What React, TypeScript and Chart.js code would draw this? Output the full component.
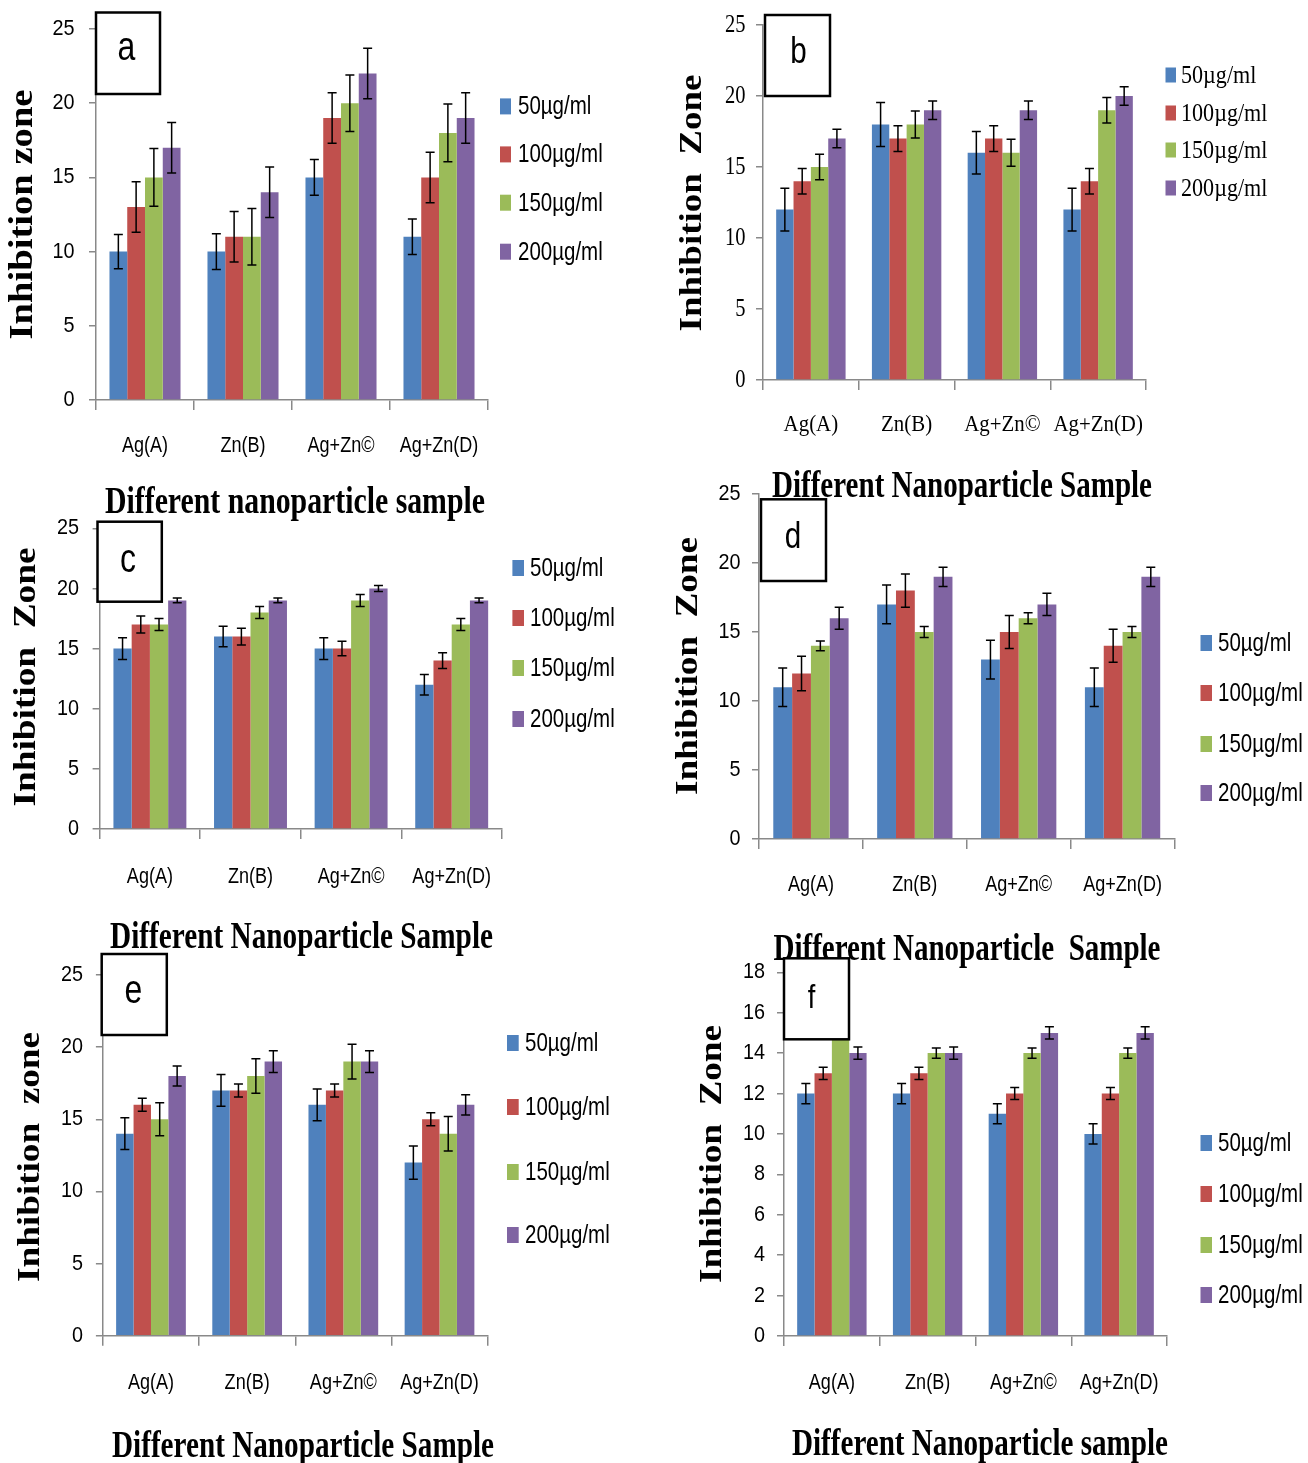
import React, { useEffect, useRef } from "react";
import { Chart, registerables } from "chart.js";

Chart.register(...registerables);

// ---------------- DATA ----------------
const categories = ["Ag(A)", "Zn(B)", "Ag+Zn©", "Ag+Zn(D)"];
const doseLabels = ["50µg/ml", "100µg/ml", "150µg/ml", "200µg/ml"];

// rows = dose (50,100,150,200), columns = categories
const panelAValues = [
  [10, 10, 15, 11],
  [13, 11, 19, 15],
  [15, 11, 20, 18],
  [17, 14, 22, 19],
];
const panelAErrors = [
  [1.15, 1.2, 1.2, 1.2],
  [1.7, 1.7, 1.7, 1.7],
  [1.95, 1.9, 1.9, 1.95],
  [1.7, 1.7, 1.7, 1.7],
];

const panelBValues = [
  [12, 18, 16, 12],
  [14, 17, 17, 14],
  [15, 18, 16, 19],
  [17, 19, 19, 20],
];
const panelBErrors = [
  [1.5, 1.55, 1.5, 1.5],
  [0.9, 0.9, 0.9, 0.9],
  [0.9, 0.95, 0.95, 0.9],
  [0.65, 0.65, 0.65, 0.65],
];

const panelCValues = [
  [15, 16, 15, 12],
  [17, 16, 15, 14],
  [17, 18, 19, 17],
  [19, 19, 20, 19],
];
const panelCErrors = [
  [0.9, 0.85, 0.9, 0.85],
  [0.7, 0.7, 0.6, 0.65],
  [0.5, 0.5, 0.5, 0.5],
  [0.2, 0.2, 0.25, 0.2],
];

const panelDValues = [
  [11, 17, 13, 11],
  [12, 18, 15, 14],
  [14, 15, 16, 15],
  [16, 19, 17, 19],
];
const panelDErrors = [
  [1.4, 1.4, 1.4, 1.4],
  [1.25, 1.2, 1.2, 1.2],
  [0.35, 0.4, 0.4, 0.4],
  [0.8, 0.7, 0.8, 0.7],
];

const panelEValues = [
  [14, 17, 16, 12],
  [16, 17, 17, 15],
  [15, 18, 19, 14],
  [18, 19, 19, 16],
];
const panelEErrors = [
  [1.1, 1.1, 1.1, 1.15],
  [0.45, 0.45, 0.45, 0.45],
  [1.15, 1.2, 1.2, 1.2],
  [0.7, 0.75, 0.75, 0.7],
];

const panelFValues = [
  [12, 12, 11, 10],
  [13, 13, 12, 12],
  [15, 14, 14, 14],
  [14, 14, 15, 15],
];
const panelFErrors = [
  [0.5, 0.5, 0.5, 0.5],
  [0.3, 0.3, 0.3, 0.3],
  [0.3, 0.25, 0.25, 0.25],
  [0.3, 0.3, 0.3, 0.3],
];

// ---------------- STYLE ----------------
const seriesColors = ["#4F81BD", "#C0504D", "#9BBB59", "#8064A2"];
const AXIS = "#898989";
const SANS = "'Liberation Sans', Arial, sans-serif";
const SERIF = "'Liberation Serif', 'Times New Roman', serif";
const LETTER_FONT = "'Liberation Sans', Arial, sans-serif";

type TextStyle = { size: number; sx: number };

type Panel = {
  key: string;
  left: number; top: number; width: number; height: number;
  l: number; r: number; t: number; b: number;
  yMax: number; yStep: number;
  values: number[][]; errors: number[][];
  serif: boolean;
  tickText: TextStyle; catText: TextStyle; legendText: TextStyle;
  tickRight: number; catY: number;
  legend: { sx: number; sw: number; sh: number; tx: number; ys: number[] };
  box: [number, number, number, number];
  letter: { ch: string; x: number; y: number; size: number };
  yTitle: { text: string; cx: number; cy: number; len: number; size: number };
  xTitle: { text: string; cx: number; base: number; len: number; size: number };
};

const sansTick: TextStyle = { size: 22, sx: 0.9 };
const sansCat: TextStyle = { size: 22, sx: 0.82 };
const sansLegend: TextStyle = { size: 25, sx: 0.82 };

const panels: Panel[] = [
  {
    key: "a", left: 0, top: 0, width: 654, height: 530,
    l: 96, r: 488, t: 29, b: 400, yMax: 25, yStep: 5,
    values: panelAValues, errors: panelAErrors, serif: false,
    tickText: sansTick, catText: sansCat, legendText: sansLegend,
    tickRight: 74.5, catY: 446,
    legend: { sx: 500, sw: 11, sh: 16, tx: 518, ys: [106.4, 154.4, 202.7, 251.7] },
    box: [96, 12.5, 160, 94],
    letter: { ch: "a", x: 126.5, y: 60, size: 40 },
    yTitle: { text: "Inhibition zone", cx: 23, cy: 214.5, len: 250, size: 38 },
    xTitle: { text: "Different nanoparticle sample", cx: 295, base: 513, len: 380, size: 38 },
  },
  {
    key: "b", left: 654, top: 0, width: 654, height: 505,
    l: 763, r: 1146, t: 25, b: 380, yMax: 25, yStep: 5,
    values: panelBValues, errors: panelBErrors, serif: true,
    tickText: { size: 25, sx: 0.82 }, catText: { size: 24, sx: 0.87 }, legendText: { size: 26, sx: 0.85 },
    tickRight: 745.5, catY: 425,
    legend: { sx: 1165.5, sw: 10.5, sh: 15, tx: 1181, ys: [75, 113, 150, 188] },
    box: [765, 15, 830, 96],
    letter: { ch: "b", x: 798.5, y: 63.3, size: 37 },
    yTitle: { text: "Inhibition  Zone", cx: 693, cy: 203, len: 257, size: 37 },
    xTitle: { text: "Different Nanoparticle Sample", cx: 962, base: 497, len: 380, size: 38 },
  },
  {
    key: "c", left: 0, top: 500, width: 654, height: 460,
    l: 99.6, r: 502, t: 528.3, b: 829, yMax: 25, yStep: 5,
    values: panelCValues, errors: panelCErrors, serif: false,
    tickText: sansTick, catText: sansCat, legendText: sansLegend,
    tickRight: 79, catY: 876.7,
    legend: { sx: 512.4, sw: 11.6, sh: 16, tx: 530, ys: [568, 618, 668, 719] },
    box: [97.5, 521.7, 161.8, 601.7],
    letter: { ch: "c", x: 128, y: 571.7, size: 40 },
    yTitle: { text: "Inhibition  Zone", cx: 27, cy: 677, len: 259, size: 37 },
    xTitle: { text: "Different Nanoparticle Sample", cx: 301.5, base: 948, len: 383, size: 38 },
  },
  {
    key: "d", left: 654, top: 475, width: 654, height: 495,
    l: 759, r: 1174.5, t: 494, b: 839, yMax: 25, yStep: 5,
    values: panelDValues, errors: panelDErrors, serif: false,
    tickText: sansTick, catText: sansCat, legendText: sansLegend,
    tickRight: 740.6, catY: 885,
    legend: { sx: 1200.5, sw: 11.5, sh: 16, tx: 1218, ys: [643, 693, 744, 793] },
    box: [761, 499.3, 826, 581],
    letter: { ch: "d", x: 793, y: 548, size: 37 },
    yTitle: { text: "Inhibition  Zone", cx: 689, cy: 666, len: 258, size: 37 },
    xTitle: { text: "Different Nanoparticle  Sample", cx: 967, base: 960, len: 387, size: 38 },
  },
  {
    key: "e", left: 0, top: 940, width: 654, height: 523,
    l: 102.9, r: 487.6, t: 975, b: 1335.7, yMax: 25, yStep: 5,
    values: panelEValues, errors: panelEErrors, serif: false,
    tickText: sansTick, catText: sansCat, legendText: sansLegend,
    tickRight: 83, catY: 1383,
    legend: { sx: 507, sw: 11.7, sh: 16, tx: 525, ys: [1043, 1107, 1172, 1235] },
    box: [101.7, 954, 166.8, 1035],
    letter: { ch: "e", x: 133.4, y: 1003.3, size: 40 },
    yTitle: { text: "Inhibition  zone", cx: 31, cy: 1157, len: 250, size: 37 },
    xTitle: { text: "Different Nanoparticle Sample", cx: 303, base: 1456.7, len: 382, size: 38 },
  },
  {
    key: "f", left: 654, top: 945, width: 654, height: 518,
    l: 784, r: 1167, t: 972.3, b: 1336, yMax: 18, yStep: 2,
    values: panelFValues, errors: panelFErrors, serif: false,
    tickText: sansTick, catText: sansCat, legendText: sansLegend,
    tickRight: 765, catY: 1383,
    legend: { sx: 1200.5, sw: 11.5, sh: 16, tx: 1218, ys: [1143, 1194, 1245, 1295] },
    box: [784, 958.3, 849, 1039.3],
    letter: { ch: "f", x: 811.5, y: 1008, size: 34 },
    yTitle: { text: "Inhibition  Zone", cx: 713, cy: 1154, len: 258, size: 37 },
    xTitle: { text: "Different Nanoparticle sample", cx: 980, base: 1455, len: 376, size: 38 },
  },
];

function drawScaled(
  ctx: CanvasRenderingContext2D, text: string, x: number, y: number, font: string,
  sx: number, sy: number, rotate: boolean, align: CanvasTextAlign, baseline: CanvasTextBaseline
) {
  ctx.save();
  ctx.font = font;
  ctx.translate(x, y);
  if (rotate) ctx.rotate(-Math.PI / 2);
  ctx.scale(sx, sy);
  ctx.textAlign = align;
  ctx.textBaseline = baseline;
  ctx.fillStyle = "#000";
  ctx.fillText(text, 0, 0);
  ctx.restore();
}

function makeDecor(p: Panel) {
  const ox = p.left, oy = p.top;
  const fam = p.serif ? SERIF : SANS;
  return {
    id: "decor_" + p.key,
    afterDatasetsDraw(chart: any) {
      const ctx: CanvasRenderingContext2D = chart.ctx;
      const ys = chart.scales.y;
      const cap = 4.5;
      ctx.save();
      ctx.strokeStyle = "#000";
      ctx.lineWidth = 1.5;
      p.errors.forEach((errs, i) => {
        const meta = chart.getDatasetMeta(i);
        meta.data.forEach((el: any, j: number) => {
          const v = p.values[i][j];
          const e = errs[j];
          const x = el.x;
          const yT = ys.getPixelForValue(v + e);
          const yB = ys.getPixelForValue(v - e);
          ctx.beginPath();
          ctx.moveTo(x, yT); ctx.lineTo(x, yB);
          ctx.moveTo(x - cap, yT); ctx.lineTo(x + cap, yT);
          ctx.moveTo(x - cap, yB); ctx.lineTo(x + cap, yB);
          ctx.stroke();
        });
      });
      ctx.restore();
    },
    afterDraw(chart: any) {
      const ctx: CanvasRenderingContext2D = chart.ctx;
      const xs = chart.scales.x;
      const ys = chart.scales.y;
      // y tick labels (condensed, through the y scale)
      const tf = `${p.tickText.size}px ${fam}`;
      ys.ticks.forEach((tk: any) => {
        const y = ys.getPixelForValue(tk.value);
        drawScaled(ctx, String(tk.label), p.tickRight - ox, y, tf, p.tickText.sx, 1, false, "right", "middle");
      });
      // category labels (condensed, through the x scale)
      const cf = `${p.catText.size}px ${fam}`;
      chart.data.labels.forEach((lab: string, i: number) => {
        const x = xs.getPixelForTick(i);
        drawScaled(ctx, lab, x, p.catY - oy, cf, p.catText.sx, 1, false, "center", "middle");
      });
      // legend
      const lg = p.legend;
      const lfont = `${p.legendText.size}px ${fam}`;
      chart.data.datasets.forEach((ds: any, i: number) => {
        const cy = lg.ys[i] - oy;
        ctx.save();
        ctx.fillStyle = ds.backgroundColor;
        ctx.fillRect(lg.sx - ox, cy - lg.sh / 2, lg.sw, lg.sh);
        ctx.restore();
        drawScaled(ctx, ds.label, lg.tx - ox, cy + 1, lfont, p.legendText.sx, 1, false, "left", "middle");
      });
      // letter box
      const [x1, y1, x2, y2] = p.box;
      ctx.save();
      ctx.fillStyle = "#fff";
      ctx.fillRect(x1 - ox, y1 - oy, x2 - x1, y2 - y1);
      ctx.strokeStyle = "#000";
      ctx.lineWidth = 2.5;
      ctx.strokeRect(x1 - ox, y1 - oy, x2 - x1, y2 - y1);
      ctx.restore();
      drawScaled(ctx, p.letter.ch, p.letter.x - ox, p.letter.y - oy,
        `${p.letter.size}px ${LETTER_FONT}`, 0.8, 1, false, "center", "alphabetic");
      // y title
      const yt = p.yTitle;
      const yfont = `bold ${yt.size}px ${SERIF}`;
      ctx.save(); ctx.font = yfont;
      const yw = ctx.measureText(yt.text).width; ctx.restore();
      drawScaled(ctx, yt.text, yt.cx - ox, yt.cy - oy, yfont, yt.len / yw, 0.88, true, "center", "middle");
      // x title
      const xt = p.xTitle;
      const xfont = `bold ${xt.size}px ${SERIF}`;
      ctx.save(); ctx.font = xfont;
      const xw = ctx.measureText(xt.text).width; ctx.restore();
      drawScaled(ctx, xt.text, xt.cx - ox, xt.base - oy, xfont, xt.len / xw, 1, false, "center", "alphabetic");
    },
  };
}

function buildConfig(p: Panel): any {
  return {
    type: "bar",
    data: {
      labels: categories,
      datasets: p.values.map((vals, i) => ({
        label: doseLabels[i],
        data: vals,
        backgroundColor: seriesColors[i],
        borderWidth: 0,
        categoryPercentage: 0.725,
        barPercentage: 1,
      })),
    },
    options: {
      responsive: false,
      maintainAspectRatio: false,
      animation: false,
      devicePixelRatio: 1,
      events: [],
      layout: {
        padding: { left: 0, top: p.t - p.top, right: p.left + p.width - p.r, bottom: 0 },
      },
      plugins: {
        legend: { display: false },
        title: { display: false },
        tooltip: { enabled: false },
      },
      scales: {
        x: {
          type: "category",
          offset: true,
          grid: {
            display: true, offset: true, drawOnChartArea: false, drawTicks: true,
            tickLength: 10, color: AXIS, lineWidth: 1.5,
          },
          border: { display: true, color: AXIS, width: 1.5 },
          ticks: { display: false, maxRotation: 0, minRotation: 0, autoSkip: false },
          afterFit: (s: any) => { s.height = p.top + p.height - p.b; },
        },
        y: {
          type: "linear",
          min: 0,
          max: p.yMax,
          ticks: { display: false, stepSize: p.yStep },
          grid: {
            display: true, drawOnChartArea: false, drawTicks: true,
            tickLength: 7, color: AXIS, lineWidth: 1.5,
          },
          border: { display: true, color: AXIS, width: 1.5 },
          afterFit: (s: any) => { s.width = p.l - p.left; },
        },
      },
    },
    plugins: [makeDecor(p)],
  };
}

function PanelChart({ p }: { p: Panel }) {
  const ref = useRef<HTMLCanvasElement>(null);
  useEffect(() => {
    const canvas = ref.current;
    if (!canvas) return;
    const chart = new Chart(canvas, buildConfig(p));
    let alive = true;
    const fonts: any = (document as any).fonts;
    if (fonts && fonts.ready) {
      fonts.ready.then(() => { if (alive) chart.update(); });
    }
    return () => { alive = false; chart.destroy(); };
  }, [p]);
  return (
    <canvas
      ref={ref}
      width={p.width}
      height={p.height}
      style={{ position: "absolute", left: p.left, top: p.top, width: p.width, height: p.height, display: "block" }}
    />
  );
}

export default function App() {
  return (
    <div
      style={{
        position: "absolute", left: 0, top: 0, width: 1308, height: 1463,
        background: "#fff", overflow: "hidden",
      }}
    >
      {panels.map((p) => (
        <PanelChart key={p.key} p={p} />
      ))}
    </div>
  );
}
